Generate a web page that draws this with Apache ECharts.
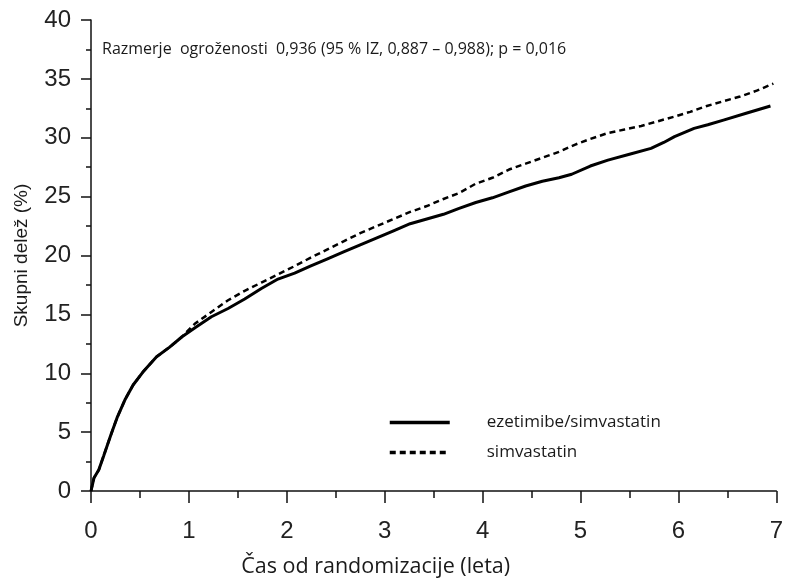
<!DOCTYPE html>
<html>
<head>
<meta charset="utf-8">
<script src="https://cdn.jsdelivr.net/npm/echarts@6/dist/echarts.min.js"></script>
<style>
	html, body { margin: 0; padding: 0; background: #fff; }
	#chart { width: 786px; height: 583px; }
</style>
</head>
<body>
<div id="chart"></div>
<script>
	// kumulativni delež (%) po letih od randomizacije
	const seriesNames = ['ezetimibe/simvastatin', 'simvastatin']

	const ezetimibeSimva = [
		[0, 0], [0.03, 1.1], [0.08, 1.8], [0.13, 3.0], [0.2, 4.7], [0.27, 6.3],
		[0.35, 7.8], [0.43, 9.0], [0.53, 10.1], [0.67, 11.4], [0.8, 12.2], [0.93, 13.1],
		[1.07, 13.9], [1.23, 14.8], [1.4, 15.5], [1.57, 16.3], [1.74, 17.2], [1.91, 18.0],
		[2.08, 18.5], [2.24, 19.1], [2.41, 19.7], [2.58, 20.3], [2.75, 20.9], [2.92, 21.5],
		[3.09, 22.1], [3.26, 22.7], [3.43, 23.1], [3.6, 23.5], [3.76, 24.0], [3.93, 24.5],
		[4.1, 24.9], [4.27, 25.4], [4.44, 25.9], [4.61, 26.3], [4.78, 26.6], [4.91, 26.9],
		[5.1, 27.6], [5.28, 28.1], [5.5, 28.6], [5.72, 29.1], [5.85, 29.6], [5.96, 30.1],
		[6.16, 30.8], [6.3, 31.1], [6.46, 31.5], [6.7, 32.1], [6.94, 32.7]
	]

	const simvastatin = [
		[0, 0], [0.03, 1.1], [0.08, 1.8], [0.13, 3.0], [0.2, 4.7], [0.27, 6.3],
		[0.35, 7.8], [0.43, 9.0], [0.53, 10.1], [0.67, 11.4], [0.8, 12.2], [0.93, 13.1],
		[1.06, 14.2], [1.23, 15.2], [1.4, 16.2], [1.57, 17.0], [1.74, 17.7], [1.91, 18.4],
		[2.08, 19.1], [2.24, 19.8], [2.41, 20.5], [2.58, 21.2], [2.75, 21.9], [2.92, 22.5],
		[3.09, 23.1], [3.26, 23.7], [3.43, 24.2], [3.6, 24.8], [3.76, 25.3], [3.93, 26.1],
		[4.1, 26.6], [4.27, 27.3], [4.44, 27.8], [4.61, 28.3], [4.78, 28.8], [4.94, 29.4],
		[5.1, 29.9], [5.28, 30.4], [5.45, 30.7], [5.62, 31.0], [5.79, 31.4], [5.96, 31.8],
		[6.12, 32.2], [6.29, 32.7], [6.46, 33.1], [6.63, 33.5], [6.8, 34.0], [6.97, 34.6]
	]

	const xTicks = [0, 7, 1]
	const yTicks = [0, 40, 5]
	const note = 'Razmerje  ogroženosti  0,936 (95 % IZ, 0,887 – 0,988); p = 0,016'

	const chart = echarts.init(document.getElementById('chart'), null, { renderer: 'canvas' })

	const textFont = '"Open Sans", sans-serif'
	const numFont = '"Liberation Sans", Arial, sans-serif'

	chart.setOption({
		animation: false,
		backgroundColor: '#fff',
		grid: { left: 91, right: 3, top: 20, bottom: 90, containLabel: false },
		title: {
			text: note,
			left: 102,
			top: 41,
			padding: 0,
			textStyle: { fontFamily: textFont, fontSize: 16, fontWeight: 'normal', color: '#1a1a1a' }
		},
		legend: {
			orient: 'vertical',
			left: 388,
			top: 412,
			padding: 0,
			itemWidth: 60,
			itemHeight: 14,
			itemGap: 9,
			itemStyle: { opacity: 0 },
			lineStyle: { width: 3.5 },
			data: seriesNames,
			textStyle: {
				fontFamily: textFont, fontSize: 17, color: '#1a1a1a',
				padding: [0, 0, 0, 32], lineHeight: 21
			}
		},
		xAxis: {
			type: 'value',
			min: xTicks[0],
			max: xTicks[1],
			interval: xTicks[2],
			name: 'Čas od randomizacije (leta)',
			nameLocation: 'middle',
			nameGap: 65,
			nameTextStyle: { fontFamily: textFont, fontSize: 21.5, color: '#1a1a1a', padding: [0, 116, 0, 0] },
			axisLine: { lineStyle: { color: '#111', width: 1.5 } },
			axisTick: { length: 12, lineStyle: { color: '#111', width: 1.5 } },
			minorTick: { show: true, splitNumber: 2, length: 7, lineStyle: { color: '#111', width: 1.5 } },
			axisLabel: { margin: 28, fontFamily: numFont, fontSize: 24, color: '#222' },
			splitLine: { show: false }
		},
		yAxis: {
			type: 'value',
			min: yTicks[0],
			max: yTicks[1],
			interval: yTicks[2],
			name: 'Skupni delež (%)',
			nameLocation: 'middle',
			nameGap: 60,
			nameTextStyle: { fontFamily: numFont, fontSize: 19, color: '#1a1a1a' },
			axisLine: { lineStyle: { color: '#111', width: 1.5 } },
			axisTick: { length: 10, lineStyle: { color: '#111', width: 1.5 } },
			minorTick: { show: true, splitNumber: 2, length: 5, lineStyle: { color: '#111', width: 1.5 } },
			axisLabel: { margin: 20, fontFamily: numFont, fontSize: 24, color: '#222' },
			splitLine: { show: false }
		},
		series: [{
			name: seriesNames[0],
			type: 'line',
			symbol: 'none',
			data: ezetimibeSimva,
			lineStyle: { color: '#000', width: 3 },
			itemStyle: { color: '#000' },
			z: 3
		}, {
			name: seriesNames[1],
			type: 'line',
			symbol: 'none',
			data: simvastatin,
			lineStyle: { color: '#000', width: 2.5, type: [6, 4] },
			itemStyle: { color: '#000' },
			z: 2
		}]
	})

	window.addEventListener('resize', () => {
		chart.resize()
	})
</script>
</body>
</html>
